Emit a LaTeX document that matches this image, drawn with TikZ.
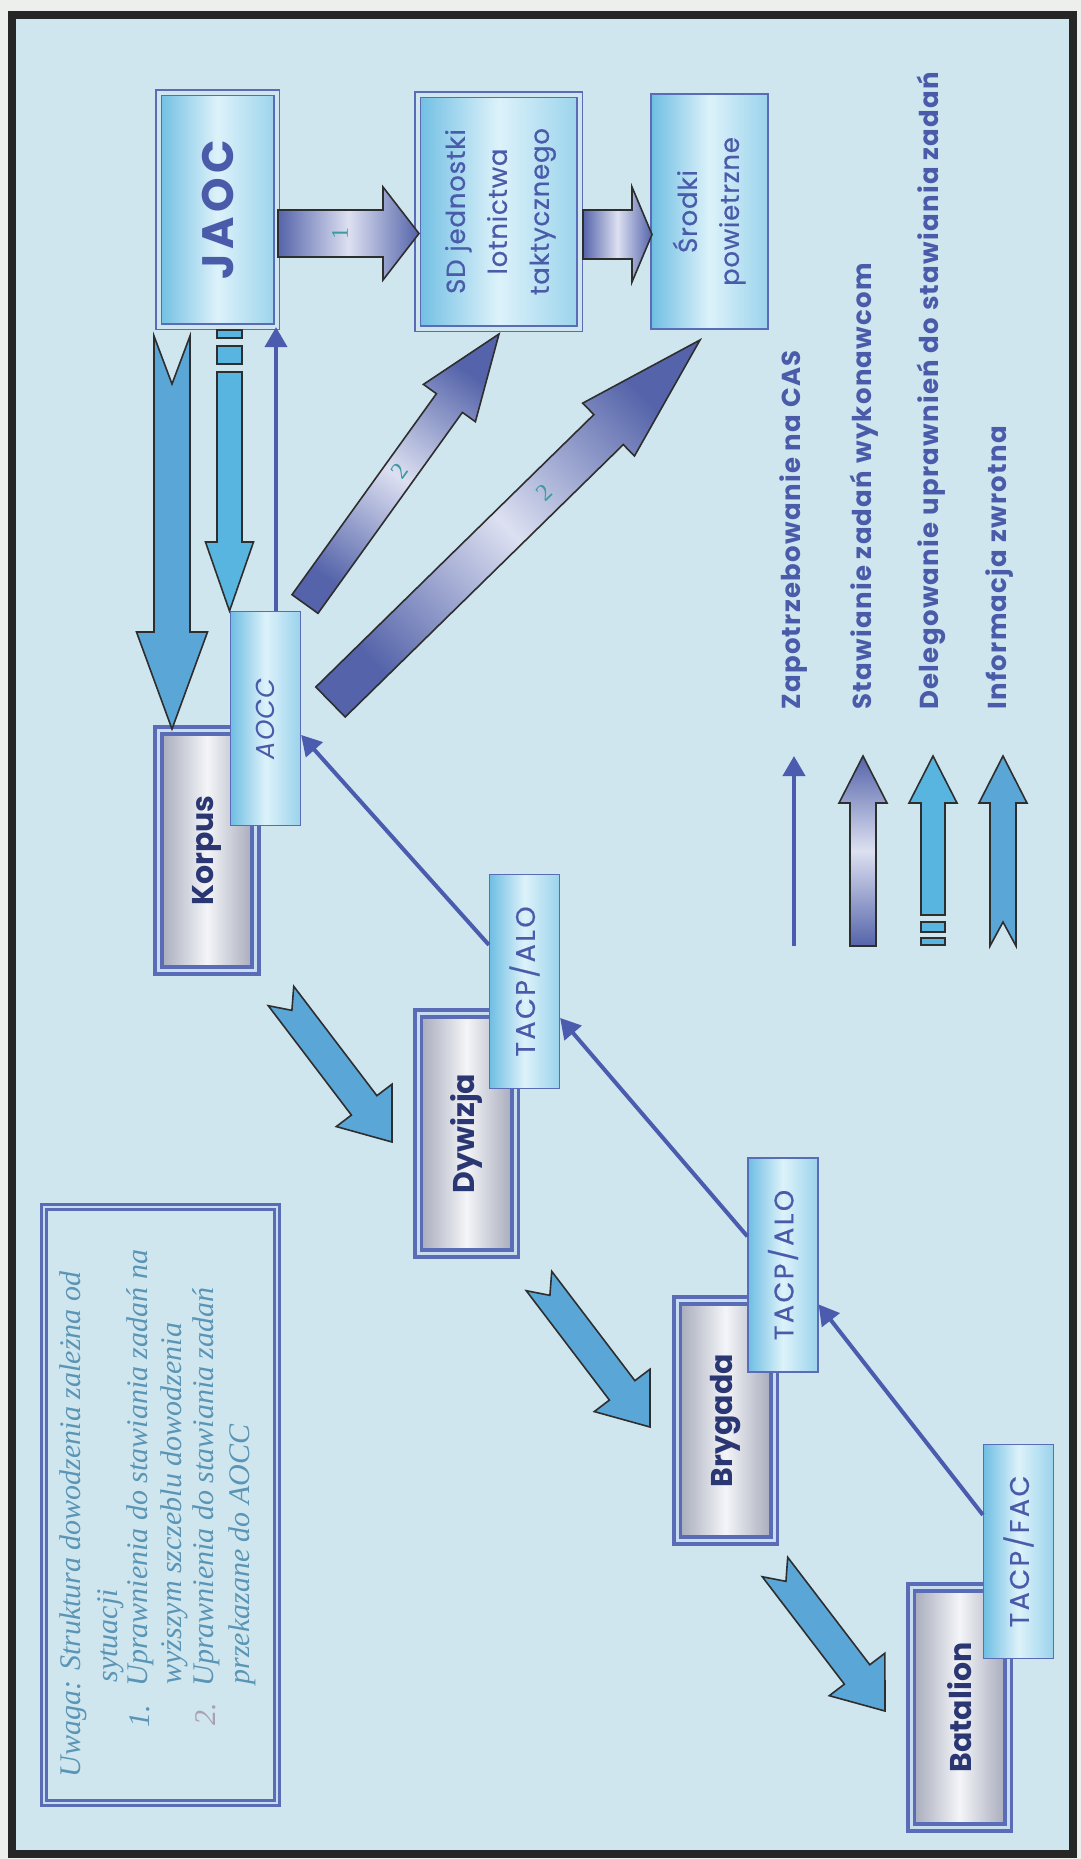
\documentclass[tikz,border=0pt]{standalone}
\usepackage{fontspec}
\setmainfont{Poppins}
\newfontfamily\notefont{Liberation Serif}
\usetikzlibrary{arrows.meta,calc}

\definecolor{pagebg}{HTML}{ECEFEC}
\definecolor{bgblue}{HTML}{CFE6EF}
\definecolor{framecol}{HTML}{262626}
\definecolor{boxline}{HTML}{5A6CB6}
\definecolor{boxdark}{HTML}{6FBEE3}
\definecolor{boxlight}{HTML}{DDF2FA}
\definecolor{boxmid}{HTML}{9AD3EC}
\definecolor{greyedge}{HTML}{A3A7B8}
\definecolor{greylight}{HTML}{F4F5F8}
\definecolor{navy}{HTML}{2B3772}
\definecolor{txtblue}{HTML}{4A5BAA}
\definecolor{reqblue}{HTML}{4B5BAD}
\definecolor{taskdark}{HTML}{5564AA}
\definecolor{tasklight}{HTML}{DCE0F1}
\definecolor{delegcol}{HTML}{58B5E0}
\definecolor{infocol}{HTML}{5AA6D6}
\definecolor{outlinecol}{HTML}{2E2E2E}
\definecolor{notecol}{HTML}{5A95B5}
\definecolor{numcol}{HTML}{3C9AA0}
\definecolor{gapcol}{HTML}{C9DDF0}
\definecolor{numtwo}{HTML}{A9A0B0}

\newcommand{\lblfont}{\fontsize{13}{21}\selectfont\addfontfeature{FakeBold=0.6,LetterSpace=3}}
\newcommand{\jaocfont}{\fontsize{22}{24}\selectfont\bfseries\addfontfeature{LetterSpace=10}}
\newcommand{\unitfont}{\fontsize{15}{18}\selectfont\bfseries}
\newcommand{\aoccfont}{\fontsize{13}{15}\selectfont\itshape\addfontfeature{LetterSpace=4}}
\newcommand{\tacpfont}{\fontsize{13.5}{15}\selectfont\addfontfeature{FakeBold=0.5,LetterSpace=9}}
\newcommand{\legfont}{\fontsize{13}{14}\selectfont\bfseries\addfontfeature{LetterSpace=5}}
\newcommand{\ntfont}{\notefont\itshape\fontsize{15}{17}\selectfont}

% block arrow: #1 style, #2 tail coord, #3 tip coord, #4 shaft half-width, #5 head half-width, #6 head length, #7 notch depth (px)
\newcommand{\baPt}[3]{\coordinate (#1) at ({(\baX+(#2)*\baUx-(#3)*\baUy)*1pt},{(\baY+(#2)*\baUy+(#3)*\baUx)*1pt});}
\newcommand{\blkarrow}[7]{%
  \path (#2); \pgfgetlastxy{\baTx}{\baTy}%
  \path (#3); \pgfgetlastxy{\baHx}{\baHy}%
  \pgfmathsetmacro{\baX}{\baTx}\pgfmathsetmacro{\baY}{\baTy}%
  \pgfmathsetmacro{\baDX}{\baHx-\baTx}\pgfmathsetmacro{\baDY}{\baHy-\baTy}%
  \pgfmathsetmacro{\baL}{veclen(\baDX,\baDY)}%
  \pgfmathsetmacro{\baUx}{\baDX/\baL}\pgfmathsetmacro{\baUy}{\baDY/\baL}%
  \pgfmathsetmacro{\baSA}{atan2(\baUy,\baUx)-90}%
  \pgfmathsetmacro{\baB}{\baL-0.5*#6}%
  \pgfmathsetmacro{\baS}{0.5*#4}\pgfmathsetmacro{\baW}{0.5*#5}\pgfmathsetmacro{\baN}{0.5*#7}%
  \baPt{ba1}{0}{-\baS}\baPt{ba2}{\baB}{-\baS}\baPt{ba3}{\baB}{-\baW}\baPt{ba4}{\baL}{0}%
  \baPt{ba5}{\baB}{\baW}\baPt{ba6}{\baB}{\baS}\baPt{ba7}{0}{\baS}\baPt{ba8}{\baN}{0}%
  \draw[#1] (ba1) -- (ba2) -- (ba3) -- (ba4) -- (ba5) -- (ba6) -- (ba7) -- (ba8) -- cycle;%
}

\begin{document}
\begin{tikzpicture}[x=0.5pt,y=-0.5pt,
  bluebox/.style={draw=boxline, line width=0.6pt, left color=boxdark, right color=boxmid, middle color=boxlight, inner sep=0pt, text=txtblue},
  dbl/.style={double=bgblue, double distance=2pt},
  greybox/.style={draw=boxline, double=gapcol, double distance=1.5pt, line width=1.8pt, left color=greyedge, right color=greyedge, middle color=greylight, inner sep=0pt, text=navy, font=\unitfont, minimum width=48.5pt, minimum height=120pt},
  smallbox/.style={bluebox, minimum width=35pt, minimum height=107pt, text=txtblue},
  notebox/.style={draw=boxline, double=gapcol, double distance=1.4pt, line width=1.1pt, inner sep=0pt},
  task/.style={draw=outlinecol, line width=0.8pt, top color=taskdark, bottom color=taskdark, middle color=tasklight, shading angle=\baSA},
  info/.style={draw=outlinecol, line width=0.8pt, fill=infocol},
  deleg/.style={draw=outlinecol, line width=0.8pt, fill=delegcol},
  req/.style={draw=reqblue, line width=2pt, -{Triangle[length=10pt,width=11pt]}},
  notetxt/.style={rotate=90, anchor=west, inner sep=0pt, text=notecol, font=\ntfont},
  legtxt/.style={rotate=90, anchor=west, inner sep=0pt, text=txtblue, font=\legfont},
  numtxt/.style={inner sep=0pt, text=numcol, font=\notefont\fontsize{12}{12}\selectfont}
]
\useasboundingbox (0,0) rectangle (1081,1859);
\fill[pagebg] (0,0) rectangle (1081,1859);
\draw[framecol, line width=4pt, fill=bgblue] (12,15) rectangle (1073,1854);

% top row
\node[bluebox, dbl, minimum width=59pt, minimum height=117pt, font=\jaocfont] (JAOC) at (217.5,209.5) {\rotatebox{90}{JAOC}};
\node[bluebox, dbl, minimum width=81pt, minimum height=117pt, font=\lblfont] (SD) at (498.5,211.5) {\rotatebox{90}{\begin{tabular}{@{}c@{}}SD jednostki\\lotnictwa\\taktycznego\end{tabular}}};
\node[bluebox, minimum width=58.5pt, minimum height=117.5pt, font=\lblfont] (SP) at (709.5,211.5) {\rotatebox{90}{\begin{tabular}{@{}c@{}}Środki\\powietrzne\end{tabular}}};

% units
\node[greybox] (Korpus) at (207,850.5) {\rotatebox{90}{Korpus}};
\node[greybox] (Dywizja) at (466.5,1133.5) {\rotatebox{90}{Dywizja}};
\node[greybox] (Brygada) at (725.5,1420.5) {\rotatebox{90}{Brygada}};
\node[greybox] (Batalion) at (959.5,1707.5) {\rotatebox{90}{Batalion}};

\node[smallbox, font=\aoccfont] (AOCC) at (265.5,718.5) {\rotatebox{90}{AOCC}};
\node[smallbox, font=\tacpfont] (TACP1) at (524.5,981.5) {\rotatebox{90}{TACP/ALO}};
\node[smallbox, font=\tacpfont] (TACP2) at (783,1265) {\rotatebox{90}{TACP/ALO}};
\node[smallbox, font=\tacpfont] (FAC) at (1018.5,1551.5) {\rotatebox{90}{TACP/FAC}};

% note box
\node[notebox, minimum width=116.5pt, minimum height=298pt] (Note) at (160.5,1505) {};
\node[notetxt] (nt1) at (73,1778) {Uwaga: Struktura dowodzenia zależna od};
\node[notetxt] (nt2) at (111,1683) {sytuacji};
\node[notetxt] (nn1) at (140,1728) {1.};
\node[notetxt] (nt3) at (140,1687) {Uprawnienia do stawiania zadań na};
\node[notetxt] (nt4) at (174,1685) {wyższym szczeblu dowodzenia};
\node[notetxt, text=numtwo] (nn2) at (206,1726) {2.};
\node[notetxt] (nt5) at (206,1687) {Uprawnienia do stawiania zadań};
\node[notetxt] (nt6) at (242,1685) {przekazane do AOCC};

% tasking arrows (top row)
\coordinate (t1a) at (278,233.5); \coordinate (t1b) at (419,233.5);
\blkarrow{task}{t1a}{t1b}{23.5}{46.5}{36}{0}
\node[numtxt, rotate=90] (lbl1) at (340,233.5) {1};
\coordinate (t2a) at (583,234.5); \coordinate (t2b) at (652,234.5);
\blkarrow{task}{t2a}{t2b}{24.5}{47.5}{20}{0}

% AOCC tasking arrows
\coordinate (s2a) at (305,604); \coordinate (s2b) at (499,334);
\blkarrow{task}{s2a}{s2b}{16}{32}{85}{0}
\node[numtxt, rotate=54] (lbl2a) at (400,471) {2};
\coordinate (s3a) at (330.5,702); \coordinate (s3b) at (700,340);
\blkarrow{task}{s3a}{s3b}{21}{37}{128}{0}
\node[numtxt, rotate=44] (lbl2b) at (544,493) {2};

% JAOC -> Korpus feedback arrow
\coordinate (fa) at (172,336); \coordinate (fb) at (172,729);
\blkarrow{info}{fa}{fb}{18}{35.5}{97}{48}

% JAOC -> AOCC delegation arrow
\draw[deleg] (217,330) rectangle (242,338);
\draw[deleg] (217,346) rectangle (242,364);
\coordinate (da) at (229.5,372); \coordinate (db) at (229.5,611);
\blkarrow{deleg}{da}{db}{12.5}{24}{69}{0}

% feedback arrows down the chain
\coordinate (i1a) at (281,996); \coordinate (i1b) at (392,1142);
\blkarrow{info}{i1a}{i1b}{16}{35}{46}{18}
\coordinate (i2a) at (539,1281); \coordinate (i2b) at (650,1427);
\blkarrow{info}{i2a}{i2b}{16}{35}{46}{18}
\coordinate (i3a) at (775,1567); \coordinate (i3b) at (885,1711);
\blkarrow{info}{i3a}{i3b}{16}{35}{46}{18}

% requests
\coordinate (aoccTop) at ($(AOCC.north)+(10.5,0)$);
\draw[req] (aoccTop) -- (aoccTop |- JAOC.south);
\draw[req] ($(TACP1.north west)+(0,71)$) -- ($(AOCC.north east)+(0,124)$);
\draw[req] ($(TACP2.north west)+(0,79)$) -- ($(TACP1.north east)+(0,144)$);
\draw[req] ($(FAC.north west)+(0,71)$) -- ($(TACP2.north east)+(0,147)$);

% legend
\coordinate (l1a) at (794,946); \coordinate (l1b) at (794,756);
\draw[req] (l1a) -- (l1b);
\coordinate (l2a) at (863,946); \coordinate (l2b) at (863,756);
\blkarrow{task}{l2a}{l2b}{13}{24}{47}{0}
\draw[deleg] (921,938) rectangle (945,945);
\draw[deleg] (921,922) rectangle (945,932);
\coordinate (l3a) at (933,915); \coordinate (l3b) at (933,756);
\blkarrow{deleg}{l3a}{l3b}{12}{24}{47}{0}
\coordinate (l4a) at (1003,946); \coordinate (l4b) at (1003,756);
\blkarrow{info}{l4a}{l4b}{13}{24}{47}{24}

\node[legtxt] (lt1) at (794,710) {Zapotrzebowanie na CAS};
\node[legtxt] (lt2) at (864,710) {Stawianie zadań wykonawcom};
\node[legtxt] (lt3) at (931,710) {Delegowanie uprawnień do stawiania zadań};
\node[legtxt] (lt4) at (1000,710) {Informacja zwrotna};
\end{tikzpicture}
\end{document}
